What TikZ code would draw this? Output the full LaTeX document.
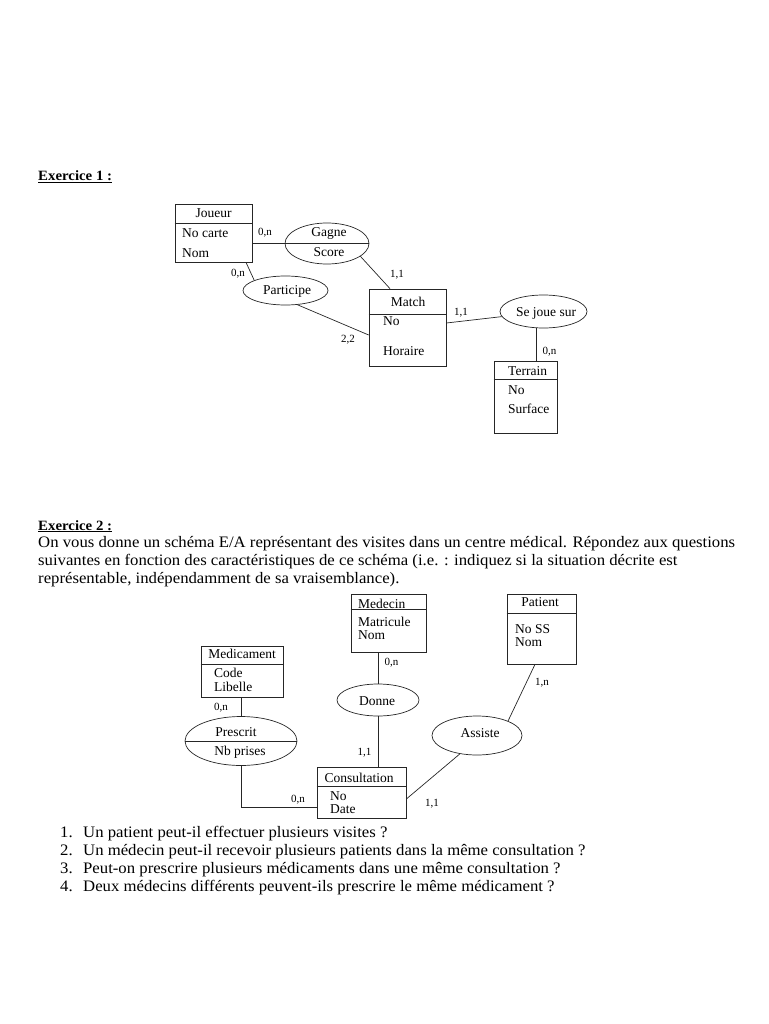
\documentclass[tikz,border=0pt]{standalone}
\usepackage{fontspec}
\setmainfont{Liberation Serif}
\newfontfamily\bodyfont{Liberation Serif}[FakeStretch=1.045]
\usetikzlibrary{shapes.geometric,calc}
\begin{document}
\begin{tikzpicture}[x=1pt,y=-1pt,
  ent/.style={draw=black!85,line width=0.7pt,inner sep=0pt},
  rel/.style={ellipse,draw=black!85,line width=0.7pt,inner sep=0pt},
  lnk/.style={draw=black!85,line width=0.7pt},
  dtxt/.style={font=\fontsize{13.5}{14}\selectfont,inner sep=0pt,anchor=base west},
  dctr/.style={font=\fontsize{13.5}{14}\selectfont,inner sep=0pt,anchor=base},
  ctxt/.style={font=\fontsize{11}{12}\selectfont,inner sep=0pt,anchor=base},
  btxt/.style={font=\bodyfont\fontsize{16}{18}\selectfont,inner sep=0pt,anchor=base west},
  htxt/.style={font=\bodyfont\bfseries\fontsize{14.2}{17}\selectfont,inner sep=0pt,anchor=base west},
]
\useasboundingbox (0,0) rectangle (768,1024);

% ---------------- Exercice 1 ----------------
\node[htxt] (h1) at (38,181) {\underline{Exercice 1 :}};

% Joueur
\node[ent,minimum width=77,minimum height=58] (joueur) at (213.5,233) {};
\draw[lnk] (joueur.west |- 0,223) -- (joueur.east |- 0,223);
\node[dctr] (joueurT) at (213.5,217.5) {Joueur};
\node[dtxt] (joueurA) at (182,237) {No carte};
\node[dtxt] (joueurB) at (182,257) {Nom};

% Gagne
\node[rel,minimum width=84,minimum height=41] (gagne) at (327,243.5) {};
\draw[lnk] (gagne.west) -- (gagne.east);
\node[dctr] (gagneT) at (329,236.5) {Gagne};
\node[dctr] (gagneA) at (329,256.5) {Score};

% Participe
\node[rel,minimum width=85,minimum height=29] (participe) at (285.5,290.5) {};
\node[dctr] (participeT) at (287,294.5) {Participe};

% Match
\node[ent,minimum width=77,minimum height=77] (match) at (407.5,327.5) {};
\draw[lnk] (match.west |- 0,314) -- (match.east |- 0,314);
\node[dctr] (matchT) at (408,306.5) {Match};
\node[dtxt] (matchA) at (383,325) {No};
\node[dtxt] (matchB) at (383,355) {Horaire};

% Se joue sur
\node[rel,minimum width=87,minimum height=33] (sejoue) at (543.5,311.5) {};
\node[dctr] (sejoueT) at (546,316.5) {Se joue sur};

% Terrain
\node[ent,minimum width=63,minimum height=72] (terrain) at (525.5,397) {};
\draw[lnk] (terrain.west |- 0,379) -- (terrain.east |- 0,379);
\node[dtxt] (terrainT) at (508,375) {Terrain};
\node[dtxt] (terrainA) at (508,394) {No};
\node[dtxt] (terrainB) at (508,413) {Surface};

% links ex 1
\draw[lnk] (joueur.east |- gagne.west) -- (gagne.west);
\draw[lnk] ([xshift=32.5]joueur.south) -- (participe.162);
\draw[lnk] (gagne.-21) -- ([xshift=-17.5]match.north);
\draw[lnk] (participe.-50) -- ([yshift=-7.5]match.west);
\draw[lnk] ([yshift=4.5]match.east) -- (sejoue.187);
\draw[lnk] (sejoue.248) -- (sejoue.248 |- terrain.north);

\node[ctxt] (c1) at (265,235.5) {0,n};
\node[ctxt] (c2) at (238,276) {0,n};
\node[ctxt] (c3) at (397,277) {1,1};
\node[ctxt] (c4) at (348,342) {2,2};
\node[ctxt] (c5) at (461,315) {1,1};
\node[ctxt] (c6) at (549.5,354) {0,n};

% ---------------- Exercice 2 ----------------
\node[htxt] (h2) at (38,530) {\underline{Exercice 2 :}};
\node[btxt] (p1) at (38,547) {On vous donne un schéma E/A représentant des visites dans un centre médical. Répondez aux questions};
\node[btxt] (p2) at (38,565) {suivantes en fonction des caractéristiques de ce schéma (i.e. : indiquez si la situation décrite est};
\node[btxt] (p3) at (38,583) {représentable, indépendamment de sa vraisemblance).};

% Medecin
\node[ent,minimum width=75,minimum height=58] (medecin) at (388.5,623) {};
\draw[lnk] (medecin.west |- 0,609) -- (medecin.east |- 0,609);
\node[dtxt] (medecinT) at (358,608) {Medecin};
\node[dtxt] (medecinA) at (358,626.5) {Matricule};
\node[dtxt] (medecinB) at (358,639) {Nom};

% Donne
\node[rel,minimum width=82,minimum height=32] (donne) at (378,700) {};
\node[dctr] (donneT) at (377,705) {Donne};

% Medicament
\node[ent,minimum width=82,minimum height=51] (medicament) at (242,671.5) {};
\draw[lnk] (medicament.west |- 0,664) -- (medicament.east |- 0,664);
\node[dctr] (medicamentT) at (242,658) {Medicament};
\node[dtxt] (medicamentA) at (214,677) {Code};
\node[dtxt] (medicamentB) at (214,691) {Libelle};

% Prescrit
\node[rel,minimum width=112,minimum height=49] (prescrit) at (241,741) {};
\draw[lnk] (prescrit.west) -- (prescrit.east);
\node[dctr] (prescritT) at (236,736) {Prescrit};
\node[dctr] (prescritA) at (240,755) {Nb prises};

% Consultation
\node[ent,minimum width=89,minimum height=51] (consult) at (361.5,792.5) {};
\draw[lnk] (consult.west |- 0,786) -- (consult.east |- 0,786);
\node[dctr] (consultT) at (359,782) {Consultation};
\node[dtxt] (consultA) at (330,800) {No};
\node[dtxt] (consultB) at (330,813) {Date};

% Patient
\node[ent,minimum width=69,minimum height=70] (patient) at (541.5,629) {};
\draw[lnk] (patient.west |- 0,613) -- (patient.east |- 0,613);
\node[dctr] (patientT) at (540,606.5) {Patient};
\node[dtxt] (patientA) at (515,633) {No SS};
\node[dtxt] (patientB) at (515,646.5) {Nom};

% Assiste
\node[rel,minimum width=90,minimum height=39] (assiste) at (477,735.5) {};
\node[dctr] (assisteT) at (480,737) {Assiste};

% links ex 2
\draw[lnk] (donne.north |- medecin.south) -- (donne.north);
\draw[lnk] (donne.south) -- (donne.south |- consult.north);
\draw[lnk] (prescrit.north |- medicament.south) -- (prescrit.north);
\draw[lnk] (prescrit.south) |- ([yshift=-14.5]consult.west);
\draw[lnk] ([xshift=-6.5]patient.south) -- (assiste.25);
\draw[lnk] (assiste.227) -- ([yshift=-6.5]consult.east);

\node[ctxt] (d1) at (391.5,665) {0,n};
\node[ctxt] (d2) at (221,710) {0,n};
\node[ctxt] (d3) at (364.5,755) {1,1};
\node[ctxt] (d4) at (298,802) {0,n};
\node[ctxt] (d5) at (432,806.5) {1,1};
\node[ctxt] (d6) at (542,685) {1,n};

% Questions
\node[btxt] (n1) at (60,837) {1.};
\node[btxt] (q1) at (83,837) {Un patient peut-il effectuer plusieurs visites ?};
\node[btxt] (n2) at (60,855) {2.};
\node[btxt] (q2) at (83,855) {Un médecin peut-il recevoir plusieurs patients dans la même consultation ?};
\node[btxt] (n3) at (60,873) {3.};
\node[btxt] (q3) at (83,873) {Peut-on prescrire plusieurs médicaments dans une même consultation ?};
\node[btxt] (n4) at (60,891) {4.};
\node[btxt] (q4) at (83,891) {Deux médecins différents peuvent-ils prescrire le même médicament ?};
\end{tikzpicture}
\end{document}
